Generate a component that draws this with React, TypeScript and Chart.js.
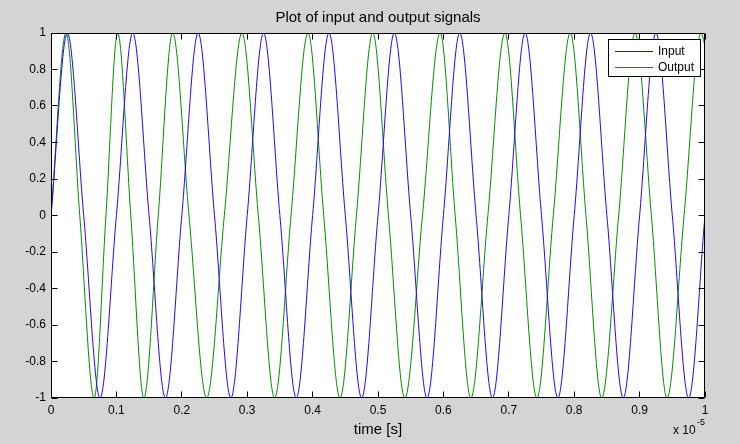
import React, { useEffect, useRef } from 'react';
import { Chart, registerables } from 'chart.js';

Chart.register(...registerables);

const chartTitle = 'Plot of input and output signals';
const xAxisTitle = 'time [s]';
const xScaleNote = 'x 10';
const xScaleExponent = '-5';
const seriesNames = ['Input', 'Output'];
const seriesColors = ['#2c00ff', '#008f00'];

const xTickValues = [0, 0.1, 0.2, 0.3, 0.4, 0.5, 0.6, 0.7, 0.8, 0.9, 1];
const xTickLabels = ['0', '0.1', '0.2', '0.3', '0.4', '0.5', '0.6', '0.7', '0.8', '0.9', '1'];
const yTickValues = [-1, -0.8, -0.6, -0.4, -0.2, 0, 0.2, 0.4, 0.6, 0.8, 1];
const yTickLabels = ['-1', '-0.8', '-0.6', '-0.4', '-0.2', '0', '0.2', '0.4', '0.6', '0.8', '1'];

// Input signal: peaks, zero crossings and troughs (time in units of 1e-5 s)
const inputTime = [
  0, 0.025, 0.05, 0.075, 0.1, 0.125, 0.15, 0.175, 0.2, 0.225,
  0.25, 0.275, 0.3, 0.325, 0.35, 0.375, 0.4, 0.425, 0.45, 0.475,
  0.5, 0.525, 0.55, 0.575, 0.6, 0.625, 0.65, 0.675, 0.7, 0.725,
  0.75, 0.775, 0.8, 0.825, 0.85, 0.875, 0.9, 0.925, 0.95, 0.975, 1,
];
const inputValue = [
  0, 1, 0, -1, 0, 1, 0, -1, 0, 1,
  0, -1, 0, 1, 0, -1, 0, 1, 0, -1,
  0, 1, 0, -1, 0, 1, 0, -1, 0, 1,
  0, -1, 0, 1, 0, -1, 0, 1, 0, -1, 0,
];

// Output signal: peaks, zero crossings and troughs
const outputTime = [
  0, 0.023, 0.044, 0.066, 0.084, 0.102, 0.122, 0.142, 0.164, 0.186,
  0.211, 0.238, 0.265, 0.292, 0.317, 0.342, 0.367, 0.393, 0.417, 0.442,
  0.467, 0.492, 0.516, 0.541, 0.568, 0.595, 0.618, 0.642, 0.668, 0.694,
  0.718, 0.743, 0.768, 0.794, 0.818, 0.842, 0.868, 0.893, 0.918, 0.942,
  0.968, 0.994, 1,
];
const outputValue = [
  0, 1, 0, -1, 0, 1, 0, -1, 0, 1,
  0, -1, 0, 1, 0, -1, 0, 1, 0, -1,
  0, 1, 0, -1, 0, 1, 0, -1, 0, 1,
  0, -1, 0, 1, 0, -1, 0, 1, 0, -1,
  0, 1, 0.93,
];

const FONT = '"Liberation Sans", Arial, Helvetica, sans-serif';
const FIG_BG = '#d4d4d4';

const backgroundPlugin = {
  id: 'figureBackground',
  beforeDraw(chart: any) {
    const { ctx, width, height, chartArea } = chart;
    ctx.save();
    ctx.fillStyle = FIG_BG;
    ctx.fillRect(0, 0, width, height);
    ctx.fillStyle = '#ffffff';
    ctx.fillRect(chartArea.left, chartArea.top, chartArea.right - chartArea.left, chartArea.bottom - chartArea.top);
    ctx.restore();
  },
};

const framePlugin = {
  id: 'axesFrame',
  afterDatasetsDraw(chart: any) {
    const { ctx, chartArea, scales } = chart;
    const L = Math.floor(chartArea.left) + 0.5;
    const R = Math.floor(chartArea.right) - 0.5;
    const T = Math.floor(chartArea.top) + 0.5;
    const B = Math.floor(chartArea.bottom) - 0.5;
    const tl = 6;
    ctx.save();
    ctx.strokeStyle = '#000';
    ctx.lineWidth = 1;
    ctx.beginPath();
    ctx.rect(L, T, R - L, B - T);
    scales.x.ticks.forEach((t: any) => {
      const px = Math.floor(scales.x.getPixelForValue(t.value)) + 0.5;
      ctx.moveTo(px, B);
      ctx.lineTo(px, B - tl);
      ctx.moveTo(px, T);
      ctx.lineTo(px, T + tl);
    });
    scales.y.ticks.forEach((t: any) => {
      const py = Math.floor(scales.y.getPixelForValue(t.value)) + 0.5;
      ctx.moveTo(L, py);
      ctx.lineTo(L + tl, py);
      ctx.moveTo(R, py);
      ctx.lineTo(R - tl, py);
    });
    ctx.stroke();
    ctx.restore();
  },
  afterDraw(chart: any) {
    const { ctx, chartArea } = chart;
    ctx.save();
    // exponent note
    ctx.fillStyle = '#000';
    ctx.textBaseline = 'middle';
    ctx.textAlign = 'left';
    ctx.font = `12px ${FONT}`;
    ctx.fillText(xScaleNote, chartArea.right - 32, chartArea.bottom + 33);
    ctx.font = `9px ${FONT}`;
    ctx.fillText(xScaleExponent, chartArea.right - 8, chartArea.bottom + 25);

    // legend box
    const bw = 93;
    const bh = 38;
    const bx = Math.floor(chartArea.right) - 4 - bw;
    const by = Math.floor(chartArea.top) + 6;
    ctx.fillStyle = '#ffffff';
    ctx.fillRect(bx, by, bw, bh);
    ctx.fillStyle = '#000000';
    ctx.fillRect(bx, by, bw, 1);
    ctx.fillRect(bx, by + bh - 1, bw, 1);
    ctx.fillRect(bx, by, 1, bh);
    ctx.fillRect(bx + bw - 1, by, 1, bh);
    ctx.font = `12px ${FONT}`;
    seriesNames.forEach((name, i) => {
      const y = by + 12 + i * 16;
      ctx.fillStyle = seriesColors[i];
      ctx.fillRect(bx + 7, y, 38, 1);
      ctx.fillStyle = '#000000';
      ctx.fillText(name, bx + 50, y + 0.5);
    });
    ctx.restore();
  },
};

export default function App() {
  const canvasRef = useRef<HTMLCanvasElement | null>(null);

  useEffect(() => {
    const canvas = canvasRef.current;
    if (!canvas) return;
    const chart = new Chart(canvas, {
      type: 'line',
      data: {
        datasets: [
          {
            label: seriesNames[0],
            data: inputTime.map((t, i) => ({ x: t, y: inputValue[i] })),
            borderColor: seriesColors[0],
            borderWidth: 1,
            pointRadius: 0,
            fill: false,
            cubicInterpolationMode: 'monotone',
          },
          {
            label: seriesNames[1],
            data: outputTime.map((t, i) => ({ x: t, y: outputValue[i] })),
            borderColor: seriesColors[1],
            borderWidth: 1,
            pointRadius: 0,
            fill: false,
            cubicInterpolationMode: 'monotone',
          },
        ],
      },
      options: {
        responsive: false,
        animation: false,
        devicePixelRatio: 1,
        events: [],
        layout: { padding: { top: 0, right: 35, bottom: 0, left: 0 } },
        plugins: {
          legend: { display: false },
          tooltip: { enabled: false },
          title: {
            display: true,
            text: chartTitle,
            fullSize: false,
            color: '#000',
            font: { family: FONT, size: 15, weight: 'normal' },
            padding: { top: 9, bottom: 6 },
          },
        },
        scales: {
          x: {
            type: 'linear',
            min: 0,
            max: 1,
            grid: { display: false, drawTicks: false },
            border: { display: false },
            afterBuildTicks: (s: any) => {
              s.ticks = xTickValues.map((v) => ({ value: v }));
            },
            afterFit: (s: any) => {
              s.height = 46;
            },
            ticks: {
              color: '#000',
              font: { family: FONT, size: 12 },
              padding: 5,
              maxRotation: 0,
              autoSkip: false,
              callback: (_v: any, i: number) => xTickLabels[i],
            },
            title: {
              display: true,
              text: xAxisTitle,
              color: '#000',
              font: { family: FONT, size: 15 },
              padding: { top: 0, bottom: 5 },
            },
          },
          y: {
            type: 'linear',
            min: -1,
            max: 1,
            grid: { display: false, drawTicks: false },
            border: { display: false },
            afterBuildTicks: (s: any) => {
              s.ticks = yTickValues.map((v) => ({ value: v }));
            },
            afterFit: (s: any) => {
              s.width = 51;
            },
            ticks: {
              color: '#000',
              font: { family: FONT, size: 12 },
              padding: 5,
              autoSkip: false,
              callback: (_v: any, i: number) => yTickLabels[i],
            },
          },
        },
      },
      plugins: [backgroundPlugin, framePlugin],
    } as any);
    return () => chart.destroy();
  }, []);

  return (
    <div style={{ position: 'fixed', left: 0, top: 0, width: 740, height: 444, background: FIG_BG }}>
      <canvas ref={canvasRef} width={740} height={444} style={{ display: 'block' }} />
    </div>
  );
}
